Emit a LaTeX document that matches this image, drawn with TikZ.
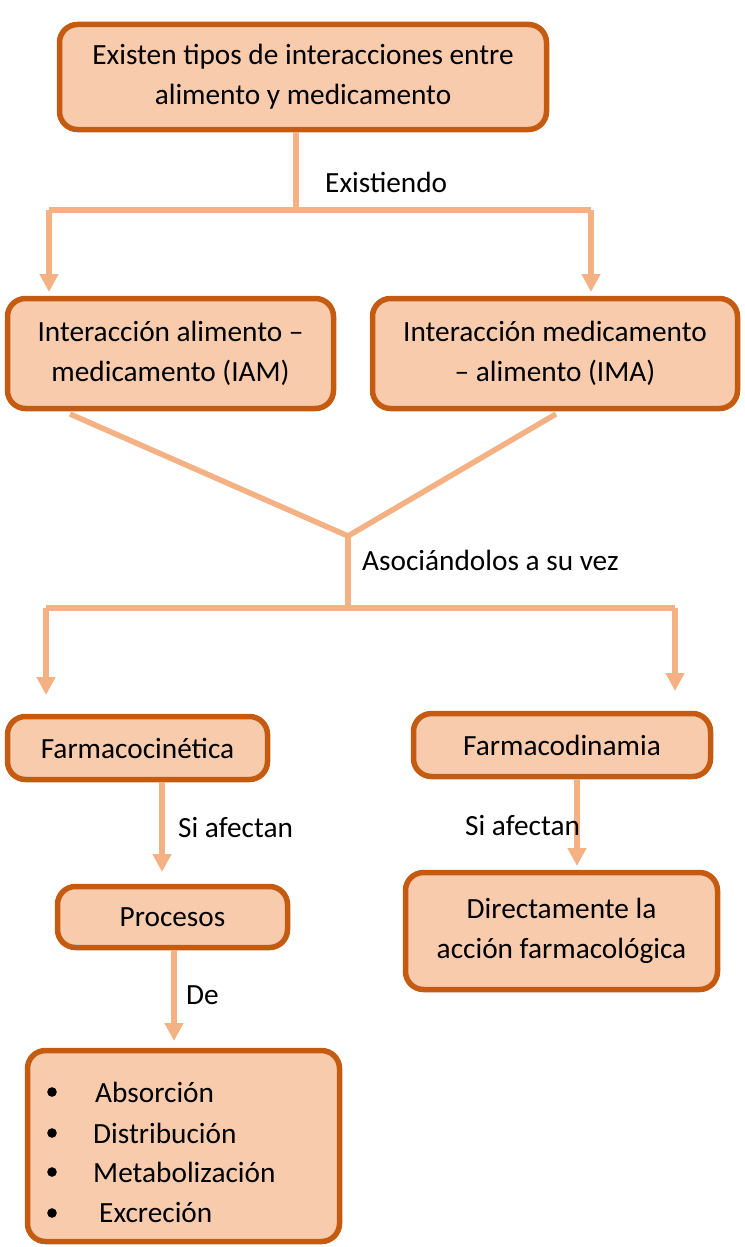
\documentclass[tikz,border=0pt]{standalone}
\usepackage{fontspec}
\setmainfont{Carlito}
\usetikzlibrary{arrows.meta}

\definecolor{boxfill}{HTML}{F8CBAD}
\definecolor{boxline}{HTML}{C55A11}
\definecolor{linkline}{HTML}{F4B183}

\tikzset{
    box/.style={draw=boxline, fill=boxfill, line width=5.5pt, rounded corners=18pt,
        align=center, inner sep=0pt, font=\fontsize{29.3}{40}\selectfont},
    link/.style={draw=linkline, line width=5.5pt},
    arr/.style={link, -{Triangle[width=18pt,length=18pt]}},
    lbl/.style={anchor=west, inner sep=0pt, font=\fontsize{29.3}{40}\selectfont},
}

\begin{document}
\begin{tikzpicture}[x=1pt,y=-1pt]
            \useasboundingbox (0,0) rectangle (744,1247);

            \node[box,minimum width=487pt,minimum height=105pt] (Tipos) at (303,77) {Existen tipos de interacciones entre\\alimento y medicamento};
            \node[box,minimum width=326pt,minimum height=110pt] (IAM) at (170.5,353.5) {Interacción alimento –\\medicamento (IAM)};
            \node[box,minimum width=365pt,minimum height=110pt] (IMA) at (555,353.5) {Interacción medicamento\\– alimento (IMA)};
            \node[box,minimum width=260pt,minimum height=63pt] (Cinetica) at (137.5,748) {Farmacocinética};
            \node[box,minimum width=297pt,minimum height=63pt] (Dinamia) at (562,745) {Farmacodinamia};
            \node[box,minimum width=230pt,minimum height=61pt] (Procesos) at (172.5,917) {Procesos};
            \node[box,minimum width=312pt,minimum height=117pt] (Accion) at (561.5,931) {Directamente la\\acción farmacológica};
            \node[box,minimum width=312pt,minimum height=191pt] (Lista) at (183.5,1146) {};
            \node[lbl] (Abs) at (95,1092) {Absorción};
            \node[lbl] (Dist) at (93,1133) {Distribución};
            \node[lbl] (Meta) at (93,1172) {Metabolización};
            \node[lbl] (Exc) at (99,1213) {Excreción};
            \foreach \yb in {1092,1133,1172,1213}
                \fill (52,\yb) circle (4.8pt);

            % first fork
            \coordinate (Fork1) at (296,210);
            \coordinate (Fork1L) at (49,210);
            \coordinate (Fork1R) at (591,210);
            \coordinate (TipIAM) at (49,292);
            \coordinate (TipIMA) at (591,292);
            \draw[link] (Tipos.south -| Fork1) -- (Fork1);
            \draw[link] (Fork1L) -- (Fork1R);
            \draw[arr] (Fork1L) -- (TipIAM);
            \draw[arr] (Fork1R) -- (TipIMA);
            \node[lbl] (Existiendo) at (325,182) {Existiendo};

            % join and second fork
            \coordinate (FromIAM) at (70,414);
            \coordinate (FromIMA) at (556,414);
            \coordinate (Join) at (348,536);
            \coordinate (Fork2) at (348,608);
            \coordinate (Fork2L) at (46,608);
            \coordinate (Fork2R) at (675,608);
            \coordinate (TipCin) at (46,695);
            \coordinate (TipDin) at (675,691);
            \draw[link] (FromIAM) -- (Join) -- (FromIMA);
            \draw[link] (Join) -- (Fork2);
            \draw[link] (Fork2L) -- (Fork2R);
            \draw[arr] (Fork2L) -- (TipCin);
            \draw[arr] (Fork2R) -- (TipDin);
            \node[lbl] (Asociando) at (362,560) {Asociándolos a su vez};

            % lower arrows
            \coordinate (TipProc) at (162,872);
            \coordinate (TipAcc) at (577,866);
            \coordinate (TipLista) at (174,1041);
            \draw[arr] (Cinetica.south -| TipProc) -- (TipProc);
            \draw[arr] (Dinamia.south -| TipAcc) -- (TipAcc);
            \draw[arr] (Procesos.south -| TipLista) -- (TipLista);
            \node[lbl] (AfectaA) at (178,828) {Si afectan};
            \node[lbl] (AfectaB) at (465,826) {Si afectan};
            \node[lbl] (De) at (186,995) {De};
\end{tikzpicture}
\end{document}
